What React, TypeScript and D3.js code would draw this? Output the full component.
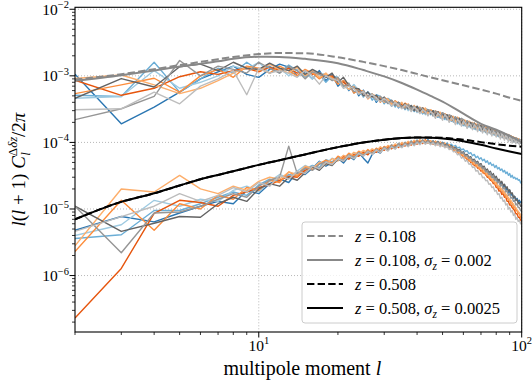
import React from 'react';
import * as d3 from 'd3';

const W = 532, H = 381;
const PL = 75, PR = 521.7, PT = 7.3, PB = 332;

// multipole moments of the simulated spectra
const ells = d3.range(2, 101);
const UPPER_UNIT = 1e-4; // z = 0.108 simulations
const LOWER_UNIT = 1e-6; // z = 0.508 simulations

const simColors = ['#2a76b2', '#6baed6', '#9ecae1', '#e6550d', '#fd8d3c', '#fdae6b', '#636363', '#969696', '#bdbdbd'];

const upperDarkBlue = [10.6,1.9,3.4,5.7,9.0,11.5,14,10.5,9.5,12.5,
15,13.5,10,11.5,9,12,8.5,10.5,7,8.5,
6.0,7.2,5.0,6.1,4.6,5.4,4.0,4.9,3.9,4.4,
3.5,4.2,3.3,3.9,3.2,3.6,3.0,3.5,2.9,3.3,
2.7,3.2,2.8,3.1,2.6,2.9,2.4,2.8,2.3,2.6,
2.2,2.5,2.1,2.45,2.0,2.3,1.95,2.2,1.8,2.1,
1.75,2.05,1.7,1.95,1.6,1.85,1.62,1.8,1.5,1.75,
1.5,1.65,1.42,1.6,1.4,1.55,1.35,1.5,1.3,1.45,
1.25,1.42,1.22,1.38,1.2,1.32,1.15,1.3,1.1,1.25,
1.08,1.2,1.05,1.18,1.02,1.12,1.0,1.1,0.98];
const upperMidBlue = [5.1,4.9,16,5.7,9,13,11,16,12,14,
11,14.5,12,9.5,12,10.5,8,10,9.5,6.8,
7.8,5.5,6.4,4.8,5.8,4.3,5.2,4.9,3.8,4.6,
4.2,3.4,4.0,3.8,3.1,3.7,3.5,2.9,3.4,3.3,
2.7,3.2,3.1,2.6,3.0,2.9,2.4,2.8,2.7,2.2,
2.6,2.5,2.1,2.4,2.35,1.9,2.3,2.2,1.8,2.1,
2.05,1.7,1.95,1.9,1.6,1.85,1.8,1.52,1.75,1.7,
1.45,1.65,1.6,1.4,1.55,1.5,1.3,1.48,1.45,1.25,
1.4,1.38,1.2,1.35,1.3,1.15,1.28,1.25,1.1,1.2,
1.18,1.05,1.15,1.12,1.0,1.1,1.08,0.98,1.05];
const upperLightBlue = [4.6,4.9,12,6.5,8,10,14,12.5,16,11,
13,10,12.5,11.5,9,11,10.5,8.5,9.5,7.2,
6.2,7.4,6.0,4.9,5.6,5.2,4.2,4.8,4.5,3.8,
4.1,3.9,3.4,3.8,3.7,3.0,3.5,3.4,2.8,3.3,
3.2,2.6,3.1,3.0,2.5,2.9,2.8,2.3,2.7,2.6,
2.2,2.5,2.4,2.0,2.35,2.25,1.85,2.2,2.1,1.75,
2.05,1.95,1.65,1.9,1.85,1.55,1.8,1.75,1.5,1.7,
1.65,1.4,1.6,1.55,1.35,1.5,1.48,1.28,1.45,1.42,
1.22,1.38,1.35,1.18,1.3,1.28,1.12,1.25,1.22,1.08,
1.18,1.15,1.02,1.12,1.1,0.98,1.08,1.05,0.95];
const upperDarkOrange = [8.6,5.1,6.5,9.7,11.5,10.5,12,13,11.5,13.5,
12,13,11,12,10.5,11,9.5,10,8.5,8,
7,6.5,5.8,5.6,5.0,5.1,4.5,4.7,4.1,4.3,
3.8,4.0,3.5,3.8,3.3,3.6,3.1,3.4,2.95,3.2,
2.85,3.1,2.75,3.0,2.65,2.85,2.55,2.75,2.4,2.6,
2.3,2.5,2.2,2.4,2.1,2.3,2.0,2.2,1.95,2.1,
1.85,2.0,1.78,1.92,1.72,1.85,1.65,1.78,1.6,1.72,
1.55,1.66,1.5,1.6,1.45,1.55,1.4,1.5,1.35,1.45,
1.3,1.4,1.26,1.36,1.22,1.32,1.18,1.28,1.14,1.24,
1.1,1.2,1.07,1.16,1.04,1.12,1.02,1.09,1.0];
const upperOrange = [5.4,7.3,9.2,5.7,10,12.5,9.5,14,13,11,
14,12,10,12.5,11,9,10.5,9.5,7.5,8.5,
7.5,5.5,6.2,5.8,4.5,5.2,5.0,4.0,4.7,4.4,
3.6,4.2,3.9,3.3,3.9,3.6,3.0,3.5,3.3,2.8,
3.3,3.1,2.6,3.1,2.9,2.4,2.9,2.75,2.25,2.7,
2.55,2.1,2.5,2.4,1.95,2.35,2.25,1.85,2.2,2.1,
1.7,2.05,1.98,1.62,1.95,1.85,1.55,1.82,1.75,1.48,
1.72,1.66,1.38,1.62,1.56,1.3,1.52,1.48,1.25,1.45,
1.4,1.18,1.38,1.34,1.12,1.32,1.28,1.08,1.26,1.22,
1.04,1.2,1.16,1.0,1.14,1.1,0.96,1.08,1.05];
const upperLightOrange = [9.1,10.3,7.3,5.4,6.5,8.5,11,13.5,12,15,
12.5,11,13.5,10,12,9.5,11,8.8,9.2,7.4,
6.3,6.9,5.4,5.9,4.7,5.4,4.4,4.9,4.0,4.5,
3.7,4.2,3.5,4.0,3.3,3.8,3.1,3.6,3.0,3.4,
2.8,3.3,2.7,3.1,2.6,3.0,2.5,2.85,2.35,2.7,
2.25,2.6,2.15,2.45,2.05,2.4,2.0,2.25,1.9,2.15,
1.8,2.1,1.75,2.0,1.68,1.9,1.62,1.85,1.55,1.8,
1.5,1.7,1.45,1.65,1.4,1.6,1.36,1.52,1.32,1.5,
1.28,1.45,1.24,1.4,1.2,1.35,1.16,1.32,1.12,1.26,
1.1,1.22,1.06,1.18,1.04,1.14,1.02,1.1,1.0];
const upperDarkGray = [4.6,9.1,6.8,13.7,15,12,16,13,12.5,15.5,
13,12,14,10.5,12.5,11,9.5,11,8,9.5,
7.2,6.5,6.4,5.0,5.7,4.8,5.1,4.3,4.8,3.9,
4.3,3.6,4.0,3.4,3.8,3.2,3.6,3.0,3.5,2.9,
3.3,2.8,3.1,2.7,3.0,2.55,2.9,2.45,2.75,2.35,
2.6,2.25,2.5,2.1,2.4,2.05,2.3,1.95,2.2,1.88,
2.1,1.8,2.0,1.72,1.95,1.66,1.88,1.6,1.8,1.55,
1.72,1.5,1.66,1.45,1.6,1.4,1.55,1.35,1.5,1.3,
1.45,1.26,1.4,1.22,1.36,1.18,1.32,1.14,1.28,1.1,
1.22,1.06,1.18,1.04,1.15,1.0,1.12,0.98,1.1];
const upperGray = [2.2,3.2,4.9,17,10,14,12.5,11,16,13,
11,14,12,9,11.5,10.5,10,8.5,9.5,7,
7.5,5.8,6.0,5.6,4.9,5.3,4.4,4.9,4.2,3.9,
4.2,3.6,3.9,3.5,3.2,3.7,3.1,3.5,2.9,3.3,
3.2,2.7,3.1,2.95,2.5,2.95,2.8,2.35,2.8,2.65,
2.2,2.6,2.5,2.05,2.4,2.3,1.9,2.3,2.2,1.8,
2.1,2.0,1.68,1.95,1.9,1.58,1.85,1.8,1.5,1.75,
1.7,1.42,1.65,1.6,1.36,1.55,1.52,1.3,1.48,1.45,
1.22,1.4,1.38,1.16,1.35,1.32,1.12,1.3,1.26,1.06,
1.22,1.18,1.02,1.16,1.12,0.98,1.1,1.08,1.12];
const upperLightGray = [3.1,3.2,5.7,3.8,7,9,12,5.2,13,11,
12,11,9.5,12,10,7.5,10,9,8.5,6.5,
7,6.5,5.3,5.8,4.6,5.3,4.6,4.1,4.6,4.1,
3.5,4.0,3.6,3.2,3.7,3.4,2.9,3.4,3.1,2.7,
3.1,2.9,2.5,2.9,2.7,2.3,2.75,2.55,2.15,2.6,
2.4,2.0,2.35,2.2,1.85,2.2,2.05,1.75,2.1,1.95,
1.62,1.95,1.82,1.55,1.85,1.72,1.45,1.75,1.62,1.38,
1.65,1.52,1.3,1.55,1.45,1.25,1.48,1.38,1.2,1.42,
1.32,1.12,1.35,1.26,1.08,1.3,1.2,1.02,1.25,1.15,
0.98,1.18,1.1,0.95,1.12,1.05,0.92,1.08,1.02];

const lowerDarkBlue = [4.8,7.7,6.4,8.7,11,13,12,19,17,24,
28,25,36,33,41,52,44,50,58,49,
62,55,70,58,49,66,74,69,85,78,
90,83,95,88,99,92,104,95,108,97,
105,96,110,98,104,95,102,92,100,90,
95,86,90,80,84,74,78,68,72,62,
66,56,60,51,55,46,50,42,47,39,
43,35,39,32,36,29,33,27,30,25,
27,23,25,21,23,19,21,17.5,19,16,
17,14.5,15.5,13.5,14.5,13,13.5,12.5,13];
const lowerMidBlue = [3.6,4.1,9.5,9.5,12,15,18,16,23,28,
26,33,31,40,45,42,55,51,60,57,
66,61,72,67,75,70,80,74,86,80,
92,85,97,90,101,93,105,96,108,99,
110,100,108,98,106,96,104,95,101,93,
98,90,94,86,90,82,85,77,80,73,
75,68,70,63,66,59,62,56,59,53,
56,50,53,47,50,45,47,42,45,40,
42,38,40,36,38,34,36,32,34,30,
32,29,30,28,29,27,27.5,25,24];
const lowerLightBlue = [4.0,5.8,13.5,11,14,13,19,22,18,26,
33,29,37,45,40,51,48,58,53,63,
59,70,64,73,68,79,72,84,77,88,
82,93,86,97,91,102,94,106,97,109,
99,107,97,105,95,103,93,100,90,96,
86,91,80,84,74,78,68,71,62,65,
57,59,51,53,46,48,42,43,38,39,
35,35,31,32,28,29,25,26,22.5,23,
20,20.5,18,18.5,16,16.5,14.5,14.5,13,13,
11.5,11.5,10.5,10,9.5,9,8.5,8,7.5];
const lowerDarkOrange = [0.23,1.28,8.6,13.5,12.5,11,16,18,21,23,
27,31,30,38,43,40,50,47,55,61,
56,66,62,71,65,77,71,82,76,87,
80,92,84,96,88,100,91,104,94,107,
96,110,98,106,94,104,92,101,89,97,
86,92,80,85,72,77,66,70,60,63,
55,58,50,52,45,47,41,42,37,38,
34,34,30,30,27,27,24,24,21,21,
18.5,19,16.5,17,15,15,13,13,11.5,11.5,
10.5,10,9.5,8.5,8.5,7.5,7.5,6.8,6.5];
const lowerOrange = [2.3,13.5,4.8,12,10,16,14,21,19,27,
25,36,31,42,39,48,54,49,62,56,
69,62,74,66,78,70,82,74,87,79,
91,83,95,87,99,90,103,93,106,96,
108,97,106,95,103,93,100,90,96,87,
92,82,86,76,80,70,74,64,68,58,
62,52,56,47,51,43,46,39,42,35,
38,32,34,29,31,26,28,23.5,25,21,
22,19,20,17,18,15,16,13.5,14,12,
12.5,10.5,11,9.5,9.5,8.5,8.5,7.5,7.2];
const lowerLightOrange = [2.8,20,18,32,20,17,22,19,26,30,
28,36,33,44,41,50,46,57,53,64,
60,71,66,76,70,80,74,86,79,90,
84,95,88,100,92,104,95,108,98,110,
100,108,98,106,96,104,94,101,91,97,
88,93,82,86,75,79,69,72,63,66,
58,60,52,54,47,49,43,44,39,40,
36,36,32,32,29,29,26,26,23,23,
21,21,19,19,17,17,15,15,13.5,13.5,
12,12,10.8,10.5,9.8,9.2,8.8,8.2,7.8];
const lowerDarkGray = [11,4.6,6.1,7.7,7.5,12,15,13,20,24,
22,30,27,35,43,38,48,45,56,52,
62,58,67,63,72,67,77,72,82,76,
87,81,92,85,96,89,100,93,104,96,
106,98,105,97,104,95,102,93,99,90,
94,85,89,80,84,75,78,69,72,64,
66,59,61,54,56,50,52,46,48,42,
44,38,40,35,37,32,34,29,31,27,
28,24.5,26,22.5,23.5,20.5,21.5,18.5,19.5,17,
17.5,15,15.5,13.5,14,12,12.5,11,11];
const lowerGray = [11,2.2,8.7,9,11,14,17,15,22,27,
30,88,34,41,38,47,51,46,57,54,
64,60,70,64,74,68,79,73,84,78,
89,83,94,87,98,91,102,94,105,97,
107,98,105,96,103,94,101,92,98,89,
92,84,87,79,82,73,76,68,70,62,
64,57,59,52,54,48,50,44,46,40,
42,36,38,33,35,30,32,27,29,24.5,
26,22,23.5,20,21,18,19,16,17,14.5,
15,13,13.5,11.5,12,10.5,10.5,9.5,9.2];
const lowerLightGray = [4.6,7.7,11,17,13,16,21,18,25,22,
32,28,37,34,44,40,50,47,57,52,
63,57,68,62,73,66,77,70,82,74,
86,79,90,83,94,86,97,89,100,92,
103,94,101,92,99,89,96,86,93,83,
87,78,81,72,74,65,67,58,60,52,
54,47,48,42,43,37,38,33,34,29.5,
30,26.5,27,23.5,24,21,21.5,18.5,19,16.5,
17,14.5,15,13,13.5,11.5,12,10,10.5,9,
9.5,8,8.5,7,7.5,6.5,6.8,6,6.2];

const upperSims = [upperDarkBlue, upperMidBlue, upperLightBlue, upperDarkOrange, upperOrange, upperLightOrange, upperDarkGray, upperGray, upperLightGray];
const lowerSims = [lowerDarkBlue, lowerMidBlue, lowerLightBlue, lowerDarkOrange, lowerOrange, lowerLightOrange, lowerDarkGray, lowerGray, lowerLightGray];

// theory curves
const theoryEll = [2,3,4,5,6,7,8,10,12,15,20,25,30,35,40,45,50,60,70,80,90,100];
const z108 = [0.88,1.06,1.26,1.45,1.62,1.78,1.92,2.12,2.2,2.18,1.9,1.62,1.4,1.22,1.07,0.95,0.86,0.72,0.62,0.54,0.47,0.42]; // ×1e-3
const z108sig = [0.84,1.02,1.2,1.38,1.52,1.65,1.8,1.93,1.92,1.8,1.55,1.22,0.98,0.78,0.62,0.5,0.41,0.27,0.19,0.155,0.125,0.1]; // ×1e-3
const z508 = [0.7,1.28,1.72,2.25,2.8,3.25,3.7,4.6,5.4,6.6,8.5,10.0,11.0,11.6,11.9,11.9,11.7,11.0,10.1,9.4,8.9,8.6]; // ×1e-5
const z508sig = [0.7,1.28,1.72,2.25,2.8,3.25,3.7,4.6,5.4,6.6,8.5,10.0,11.0,11.6,11.85,11.7,11.4,10.4,9.2,8.1,7.3,6.7]; // ×1e-5

const legendZ = ['0.108', '0.108', '0.508', '0.508'];
const legendSigma = ['', '0.002', '', '0.0025'];
const yMajor = [-2, -3, -4, -5, -6];
const xMajor = [1, 2];

const FONT = "'Liberation Serif', 'Times New Roman', Times, serif";

export default function App() {
  const x = d3.scaleLog().domain([2, 100]).range([PL, PR]);
  const y = d3.scaleLog().domain([1.42e-7, 1.07e-2]).range([PB, PT]);
  const line = d3.line<[number, number]>().x(d => x(d[0])).y(d => y(d[1]));
  const smooth = d3.line<[number, number]>().x(d => x(d[0])).y(d => y(d[1])).curve(d3.curveMonotoneX);

  const yMinor: number[] = [];
  for (let e = -7; e <= -3; e++) for (let m = 2; m <= 9; m++) {
    const v = m * Math.pow(10, e);
    if (v >= 1.42e-7 && v <= 1.07e-2) yMinor.push(v);
  }
  const xMinor = [2, 3, 4, 5, 6, 7, 8, 9, 20, 30, 40, 50, 60, 70, 80, 90];

  const theory = [
    { vals: z108, unit: 1e-3, color: '#888888', dash: '7.4,3.2', w: 2 },
    { vals: z108sig, unit: 1e-3, color: '#888888', dash: null, w: 2 },
    { vals: z508, unit: 1e-5, color: '#000000', dash: '7.4,3.2', w: 2 },
    { vals: z508sig, unit: 1e-5, color: '#000000', dash: null, w: 2 },
  ];

  const legY = [236, 260, 284, 308];

  return (
    <svg width={W} height={H} style={{ position: 'absolute', left: 0, top: 0, background: '#fff', fontFamily: FONT }}>
      <defs>
        <clipPath id="plotclip"><rect x={PL} y={PT} width={PR - PL} height={PB - PT} /></clipPath>
      </defs>
      <rect x={0} y={0} width={W} height={H} fill="#fff" />
      {yMajor.map(k => (
        <line key={'gy' + k} x1={PL} x2={PR} y1={y(Math.pow(10, k))} y2={y(Math.pow(10, k))} stroke="#b0b0b0" strokeWidth={0.9} strokeDasharray="1,2" />
      ))}
      {xMajor.map(k => (
        <line key={'gx' + k} y1={PT} y2={PB} x1={x(Math.pow(10, k))} x2={x(Math.pow(10, k))} stroke="#b0b0b0" strokeWidth={0.9} strokeDasharray="1,2" />
      ))}
      <g clipPath="url(#plotclip)">
        {upperSims.map((s, i) => (
          <path key={'u' + i} d={line(s.map((v, j) => [ells[j], v * UPPER_UNIT]))!} fill="none" stroke={simColors[i]} strokeWidth={1.4} strokeLinejoin="round" />
        ))}
        {lowerSims.map((s, i) => (
          <path key={'l' + i} d={line(s.map((v, j) => [ells[j], v * LOWER_UNIT]))!} fill="none" stroke={simColors[i]} strokeWidth={1.4} strokeLinejoin="round" />
        ))}
        {theory.map((t, i) => (
          <path key={'t' + i} d={smooth(t.vals.map((v, j) => [theoryEll[j], v * t.unit]))!} fill="none" stroke={t.color} strokeWidth={t.w} strokeDasharray={t.dash || undefined} />
        ))}
      </g>
      <rect x={302} y={222} width={215} height={101} rx={3} fill="#fff" fillOpacity={0.8} stroke="#cccccc" strokeWidth={1} />
      {theory.map((t, i) => (
        <line key={'lg' + i} x1={307} x2={343} y1={legY[i]} y2={legY[i]} stroke={t.color} strokeWidth={t.w} strokeDasharray={t.dash || undefined} />
      ))}
      {legendZ.map((zv, i) => (
        <text key={'lt' + i} x={355} y={legY[i] + 5.5} fontSize={16.5}>
          <tspan fontStyle="italic">z</tspan>
          <tspan> = {zv}</tspan>
          {legendSigma[i] ? (
            <>
              <tspan>, </tspan>
              <tspan fontStyle="italic">σ</tspan>
              <tspan fontStyle="italic" fontSize={11.5} dy={4}>z</tspan>
              <tspan dy={-4}> = {legendSigma[i]}</tspan>
            </>
          ) : null}
        </text>
      ))}
      <rect x={PL} y={PT} width={PR - PL} height={PB - PT} fill="none" stroke="#000" strokeWidth={1.1} />
      {yMajor.map(k => (
        <g key={'yt' + k}>
          <line x1={PL - 5.5} x2={PL} y1={y(Math.pow(10, k))} y2={y(Math.pow(10, k))} stroke="#000" strokeWidth={1} />
          <text x={69} y={y(Math.pow(10, k)) + 5.5} textAnchor="end" fontSize={15.5}>
            <tspan>10</tspan>
            <tspan fontSize={10.5} dy={-6.5}>{'−' + (-k)}</tspan>
          </text>
        </g>
      ))}
      {yMinor.map((v, i) => (
        <line key={'ym' + i} x1={PL - 3} x2={PL} y1={y(v)} y2={y(v)} stroke="#000" strokeWidth={0.8} />
      ))}
      {xMajor.map(k => (
        <g key={'xt' + k}>
          <line x1={x(Math.pow(10, k))} x2={x(Math.pow(10, k))} y1={PB} y2={PB + 5.5} stroke="#000" strokeWidth={1} />
          <text x={x(Math.pow(10, k))} y={351} textAnchor="middle" fontSize={15.5}>
            <tspan>10</tspan>
            <tspan fontSize={10.5} dy={-7}>{String(k)}</tspan>
          </text>
        </g>
      ))}
      {xMinor.map((v, i) => (
        <line key={'xm' + i} x1={x(v)} x2={x(v)} y1={PB} y2={PB + 3} stroke="#000" strokeWidth={0.8} />
      ))}
      <text x={(PL + PR) / 2 + 4} y={375} textAnchor="middle" fontSize={20}>
        <tspan>multipole moment </tspan>
        <tspan fontStyle="italic">l</tspan>
      </text>
      <text transform={`translate(25,${(PT + PB) / 2}) rotate(-90)`} textAnchor="middle" fontSize={19}>
        <tspan fontStyle="italic">l</tspan>
        <tspan>(</tspan>
        <tspan fontStyle="italic">l</tspan>
        <tspan> + 1) </tspan>
        <tspan fontStyle="italic">C</tspan>
        <tspan fontSize={13} dy={-8}>Δ</tspan>
        <tspan fontSize={13} fontStyle="italic">δz</tspan>
        <tspan fontSize={13} fontStyle="italic" dx={-19} dy={13}>l</tspan>
        <tspan dx={15} dy={-5}>/2</tspan>
        <tspan fontStyle="italic">π</tspan>
      </text>
    </svg>
  );
}
